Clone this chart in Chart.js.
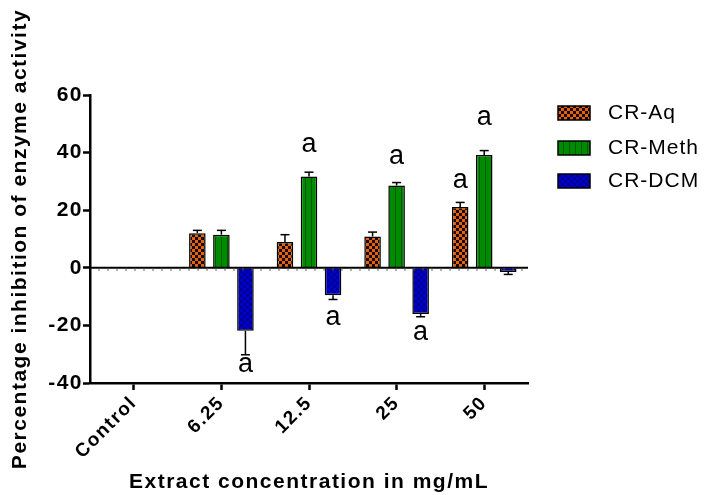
<!DOCTYPE html>
<html>
<head>
<meta charset="utf-8">
<script src="https://cdn.jsdelivr.net/npm/chart.js@4.4.1/dist/chart.umd.min.js"></script>
<style>
html,body{margin:0;padding:0;background:#fff;}
#wrap{width:705px;height:495px;position:relative;}
</style>
</head>
<body>
<div id="wrap"><canvas id="c" width="705" height="495"></canvas></div>
<script>
// ---- data ----
const categories = ['Control', '6.25', '12.5', '25', '50'];
const seriesNames = ['CR-Aq', 'CR-Meth', 'CR-DCM'];
const aqValues   = [0, 12.0, 9.0, 10.9, 21.1];
const methValues = [0, 11.5, 31.7, 28.6, 39.2];
const dcmValues  = [0, -21.9, -9.5, -16.0, -1.5];
const aqErr   = [0, 1.0, 2.5, 1.5, 1.6];
const methErr = [0, 1.5, 1.5, 1.0, 1.5];
const dcmErr  = [0, 8.3, 1.5, 1.0, 0.8];
// significance letters and the value height at which each sits
const aqLetters   = ['', '', '', '', 'a'];
const methLetters = ['', '', 'a', 'a', 'a'];
const dcmLetters  = ['', 'a', 'a', 'a', ''];
const aqLetterY   = [null, null, null, null, 30.2];
const methLetterY = [null, null, 42.7, 38.5, 52.0];
const dcmLetterY  = [null, -33.7, -17.4, -22.6, null];
const yTicks = [-40, -20, 0, 20, 40, 60];

function makePattern(kind) {
  const cv = document.createElement('canvas');
  const ctx = cv.getContext('2d');
  cv.width = 6; cv.height = 6;
  if (kind === 'check') {
    ctx.fillStyle = '#e2620e'; ctx.fillRect(0,0,6,6);
    ctx.fillStyle = '#1a0a00'; ctx.fillRect(0,0,3,3); ctx.fillRect(3,3,3,3);
  } else if (kind === 'stripe') {
    ctx.fillStyle = '#008a00'; ctx.fillRect(0,0,6,6);
    ctx.fillStyle = '#005800'; ctx.fillRect(5,0,1,6);
  } else {
    ctx.fillStyle = '#0000d0'; ctx.fillRect(0,0,6,6);
    ctx.fillStyle = '#000090'; ctx.fillRect(0,0,3,3); ctx.fillRect(3,3,3,3);
  }
  return ctx.createPattern(cv, 'repeat');
}
const patterns = [makePattern('check'), makePattern('stripe'), makePattern('cross')];
const errs = [aqErr, methErr, dcmErr];
const letters = [aqLetters, methLetters, dcmLetters];
const letterY = [aqLetterY, methLetterY, dcmLetterY];
const FONT = '"Liberation Sans", Arial, sans-serif';

const extras = {
  id: 'extras',
  beforeDraw(chart) { chart.ctx.letterSpacing = '1.5px'; },
  afterDatasetsDraw(chart) {
    const ctx = chart.ctx;
    const y = chart.scales.y;
    const y0 = y.getPixelForValue(0);
    ctx.save();
    ctx.letterSpacing = '0px';
    ctx.strokeStyle = '#000'; ctx.lineWidth = 2;
    ctx.beginPath(); ctx.moveTo(chart.chartArea.left, y0); ctx.lineTo(chart.chartArea.right, y0); ctx.stroke();
    ctx.lineWidth = 1;
    ctx.strokeStyle = '#555';
    for (let x = chart.chartArea.left + 9; x < chart.chartArea.right; x += 9) {
      ctx.beginPath(); ctx.moveTo(x, y0); ctx.lineTo(x, y0 + 3); ctx.stroke();
    }
    chart.data.datasets.forEach((ds, di) => {
      const meta = chart.getDatasetMeta(di);
      meta.data.forEach((bar, i) => {
        const v = ds.data[i];
        if (!v) return;
        const e = errs[di][i];
        const end = v >= 0 ? v + e : v - e;
        const yEnd = y.getPixelForValue(end);
        ctx.strokeStyle = '#000'; ctx.lineWidth = 1.5;
        ctx.beginPath(); ctx.moveTo(bar.x, bar.y); ctx.lineTo(bar.x, yEnd); ctx.stroke();
        ctx.beginPath(); ctx.moveTo(bar.x - 4.5, yEnd); ctx.lineTo(bar.x + 4.5, yEnd); ctx.stroke();
        const L = letters[di][i];
        if (L) {
          ctx.fillStyle = '#000';
          ctx.font = '27px ' + FONT;
          ctx.textAlign = 'center'; ctx.textBaseline = 'middle';
          ctx.fillText(L, bar.x, y.getPixelForValue(letterY[di][i]));
        }
      });
    });
    const lx = 558, ly = [113, 148, 181];
    ctx.letterSpacing = '1px';
    chart.data.datasets.forEach((ds, di) => {
      ctx.fillStyle = patterns[di];
      ctx.fillRect(lx, ly[di] - 7, 32, 14);
      ctx.strokeStyle = '#000'; ctx.lineWidth = 1.5;
      ctx.strokeRect(lx, ly[di] - 7, 32, 14);
      ctx.fillStyle = '#000';
      ctx.font = '21px ' + FONT;
      ctx.textAlign = 'left'; ctx.textBaseline = 'middle';
      ctx.fillText(ds.label, 608, ly[di]);
    });
    ctx.restore();
  }
};

new Chart(document.getElementById('c'), {
  type: 'bar',
  data: {
    labels: categories,
    datasets: [
      { label: seriesNames[0], data: aqValues, backgroundColor: patterns[0], borderColor: '#000', borderWidth: 1.5 },
      { label: seriesNames[1], data: methValues, backgroundColor: patterns[1], borderColor: '#000', borderWidth: 1.5 },
      { label: seriesNames[2], data: dcmValues, backgroundColor: patterns[2], borderColor: '#000', borderWidth: 1.5 }
    ]
  },
  options: {
    responsive: false,
    animation: false,
    layout: { padding: { left: 0, right: 177, top: 95, bottom: 0 } },
    datasets: { bar: { categoryPercentage: 0.823, barPercentage: 0.69 } },
    plugins: { legend: { display: false }, tooltip: { enabled: false } },
    scales: {
      x: {
        border: { color: '#000', width: 2.5 },
        grid: { display: true, drawOnChartArea: false, drawTicks: true, tickLength: 7, tickColor: '#000', tickWidth: 2.5, offset: false },
        ticks: { color: '#000', font: { family: FONT, size: 19, weight: 'bold' }, minRotation: 45, maxRotation: 45, padding: 2 },
        title: { display: true, text: 'Extract concentration in mg/mL', color: '#000', font: { family: FONT, size: 21, weight: 'bold' }, padding: { top: 0, bottom: 0 } },
        afterFit(s) { s.height = 112; }
      },
      y: {
        min: -40, max: 60,
        afterBuildTicks(s) { s.ticks = yTicks.map(v => ({ value: v })); },
        border: { color: '#000', width: 2.5 },
        grid: { display: true, drawOnChartArea: false, drawTicks: true, tickLength: 7, tickColor: '#000', tickWidth: 2.5 },
        ticks: { color: '#000', font: { family: FONT, size: 21, weight: 'bold' }, padding: 0 },
        title: { display: true, text: 'Percentage inhibition of enzyme activity', color: '#000', font: { family: FONT, size: 21, weight: 'bold' }, padding: { top: 8, bottom: 0 } },
        afterFit(s) { s.width = 90; }
      }
    }
  },
  plugins: [extras]
});
</script>
</body>
</html>
